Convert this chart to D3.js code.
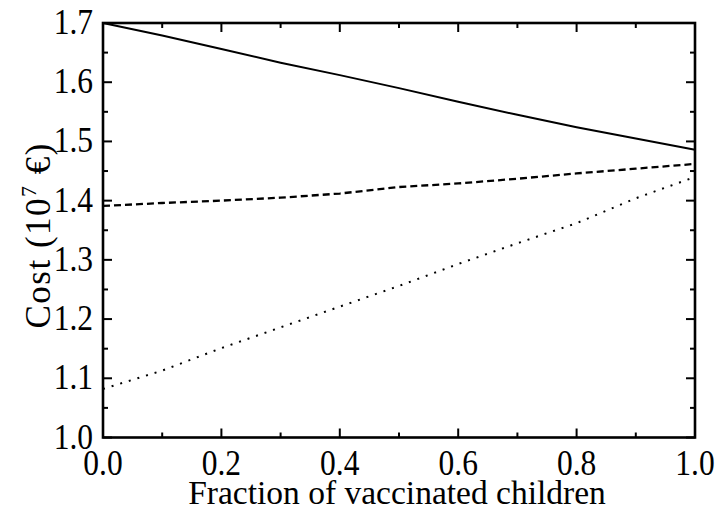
<!DOCTYPE html>
<html>
<head>
<meta charset="utf-8">
<script src="https://cdn.jsdelivr.net/npm/d3@7"></script>
<style>
  html, body { margin: 0; padding: 0; background: #fff; }
  svg { display: block; }
  text { font-family: "Liberation Serif", "Times New Roman", serif; fill: #000; }
</style>
</head>
<body>
<svg id="chart" width="718" height="509"></svg>
<script>
// Data
const fractions = [0, 0.1, 0.2, 0.3, 0.4, 0.5, 0.6, 0.7, 0.8, 0.9, 1.0];
const costSolid  = [1.700, 1.679, 1.656, 1.633, 1.612, 1.590, 1.567, 1.545, 1.524, 1.505, 1.486];
const costDashed = [1.391, 1.396, 1.400, 1.405, 1.412, 1.423, 1.429, 1.437, 1.446, 1.454, 1.462];
const costDotted = [1.082, 1.113, 1.151, 1.186, 1.221, 1.256, 1.293, 1.328, 1.362, 1.404, 1.440];
const xTickValues = [0, 0.2, 0.4, 0.6, 0.8, 1.0];
const yTickValues = [1.0, 1.1, 1.2, 1.3, 1.4, 1.5, 1.6, 1.7];
const xLabel = "Fraction of vaccinated children";
const yLabel = "Cost (10";

const svg = d3.select("#chart");
const pLeft = 103, pRight = 695, pTop = 23, pBottom = 437.5;

const x = d3.scaleLinear().domain([0, 1]).range([pLeft, pRight]);
const y = d3.scaleLinear().domain([1.0, 1.7]).range([pBottom, pTop]);

const fontSize = 35, sx = 0.9;

// Lines
const lineGen = vals => d3.line().x((d, i) => x(fractions[i])).y(d => y(d))(vals);
const g = svg.append("g");
g.append("path").attr("d", lineGen(costSolid)).attr("fill", "none").attr("stroke", "#000").attr("stroke-width", 2);
g.append("path").attr("d", lineGen(costDashed)).attr("fill", "none").attr("stroke", "#000").attr("stroke-width", 2.3).attr("stroke-dasharray", "7,4");
g.append("path").attr("d", lineGen(costDotted)).attr("fill", "none").attr("stroke", "#000").attr("stroke-width", 2).attr("stroke-dasharray", "2,7");

// Ticks (inward, all four sides)
const majLen = 9, minLen = 5;
const xMinor = d3.range(0, 1.0001, 0.1);
const yMinor = d3.range(1.0, 1.7001, 0.05);
const tg = svg.append("g").attr("stroke", "#000").attr("stroke-width", 2);
xMinor.forEach(v => {
  const isMaj = xTickValues.some(t => Math.abs(t - v) < 1e-6);
  const L = isMaj ? majLen : minLen;
  tg.append("line").attr("x1", x(v)).attr("x2", x(v)).attr("y1", pBottom).attr("y2", pBottom - L);
  tg.append("line").attr("x1", x(v)).attr("x2", x(v)).attr("y1", pTop).attr("y2", pTop + L);
});
yMinor.forEach(v => {
  const isMaj = yTickValues.some(t => Math.abs(t - v) < 1e-6);
  const L = isMaj ? majLen : minLen;
  tg.append("line").attr("y1", y(v)).attr("y2", y(v)).attr("x1", pLeft).attr("x2", pLeft + L);
  tg.append("line").attr("y1", y(v)).attr("y2", y(v)).attr("x1", pRight).attr("x2", pRight - L);
});

// Frame
svg.append("rect").attr("x", pLeft).attr("y", pTop).attr("width", pRight - pLeft).attr("height", pBottom - pTop)
  .attr("fill", "none").attr("stroke", "#000").attr("stroke-width", 2.6);

// Tick labels
xTickValues.forEach(v => {
  svg.append("text")
    .attr("transform", `translate(${x(v)},${475}) scale(${sx},1)`)
    .attr("text-anchor", "middle").attr("font-size", fontSize)
    .text(d3.format(".1f")(v));
});
yTickValues.forEach(v => {
  svg.append("text")
    .attr("transform", `translate(${93},${y(v) + 11}) scale(${sx},1)`)
    .attr("text-anchor", "end").attr("font-size", fontSize)
    .text(d3.format(".1f")(v));
});

// Axis titles
svg.append("text")
  .attr("transform", `translate(${(pLeft + pRight) / 2 - 2},${504})`)
  .attr("text-anchor", "middle").attr("font-size", 33.5)
  .text(xLabel);

const yt = svg.append("text")
  .attr("transform", `translate(50,${(pTop + pBottom) / 2 + 5}) rotate(-90)`)
  .attr("text-anchor", "middle").attr("font-size", 35).attr("letter-spacing", 1.5);
yt.append("tspan").text(yLabel);
yt.append("tspan").attr("font-size", 22).attr("dy", -14).text("7");
yt.append("tspan").attr("dy", 14).text(" €)");
</script>
</body>
</html>
